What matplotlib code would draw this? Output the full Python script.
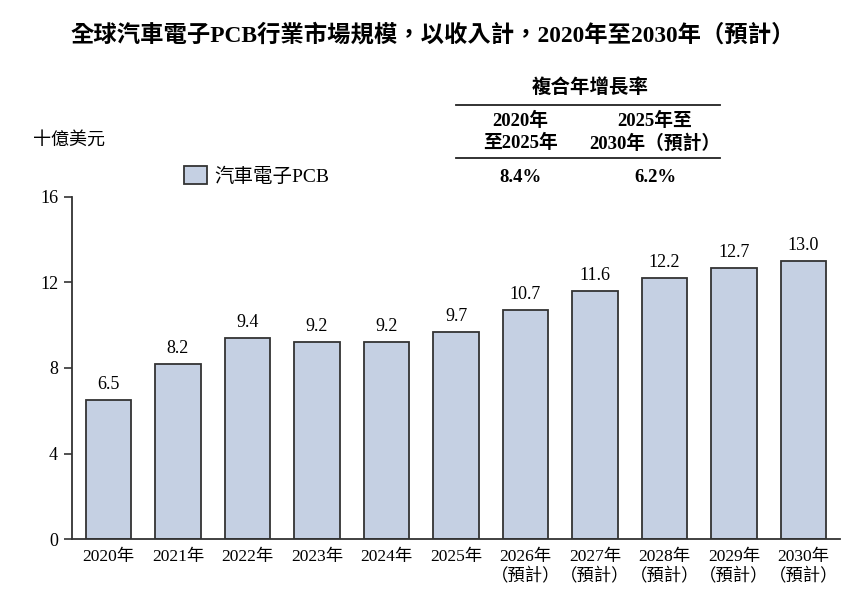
import matplotlib
matplotlib.use("Agg")
import matplotlib.pyplot as plt
from matplotlib.patches import Patch

plt.rcParams['font.family'] = ['Liberation Serif', 'Noto Sans CJK TC']

years = ["2020年", "2021年", "2022年", "2023年", "2024年", "2025年",
         "2026年\n（預計）", "2027年\n（預計）", "2028年\n（預計）",
         "2029年\n（預計）", "2030年\n（預計）"]
values = [6.5, 8.2, 9.4, 9.2, 9.2, 9.7, 10.7, 11.6, 12.2, 12.7, 13.0]
cagr_headers = ["2020年\n至2025年", "2025年至\n2030年（預計）"]
cagr_values = ["8.4%", "6.2%"]

bar_color = "#c5d0e3"
edge = "#333333"

fig = plt.figure(figsize=(8.66, 6.05), dpi=100)
ax = fig.add_axes([72 / 866, 66 / 605, 768 / 866, 342 / 605])

x = list(range(len(values)))
ax.bar(x, values, width=0.65, color=bar_color, edgecolor=edge, linewidth=1.3, zorder=2)
for xi, v in zip(x, values):
    ax.annotate(f"{v:.1f}", (xi, v), xytext=(0, 5), textcoords="offset points",
                ha="center", va="bottom", fontsize=13)

ax.set_xlim(-0.525, 10.525)
ax.set_ylim(0, 16)
ax.set_yticks([0, 4, 8, 12, 16])
ax.set_xticks(x)
ax.set_xticklabels(years, fontsize=12.5, linespacing=1.3)
ax.tick_params(axis="x", length=0, pad=7)
ax.tick_params(axis="y", length=6, width=1.2, color=edge, labelsize=13, pad=4)
for s in ["top", "right"]:
    ax.spines[s].set_visible(False)
for s in ["left", "bottom"]:
    ax.spines[s].set_color(edge)
    ax.spines[s].set_linewidth(1.3)

fig.text(0.5, 1 - 35 / 605, "全球汽車電子PCB行業市場規模，以收入計，2020年至2030年（預計）",
         ha="center", va="center", fontsize=16.8, fontweight="bold")
fig.text(33 / 866, 1 - 140 / 605, "十億美元", ha="left", va="center",
         fontsize=13, style="italic")

fig.legend(handles=[Patch(facecolor=bar_color, edgecolor=edge, linewidth=1.3, label="汽車電子PCB")],
           loc="center left", bbox_to_anchor=(166 / 866, 1 - 176 / 605), frameon=False,
           fontsize=14, handlelength=1.2, handleheight=1.0, handletextpad=0.4)

# CAGR table
fig.text(590 / 866, 1 - 88 / 605, "複合年增長率", ha="center", va="center",
         fontsize=14, fontweight="bold")
fig.add_artist(plt.Line2D([456 / 866, 720 / 866], [1 - 105 / 605] * 2, color="#222222", lw=1.3))
fig.add_artist(plt.Line2D([456 / 866, 720 / 866], [1 - 158 / 605] * 2, color="#222222", lw=1.3))
for cx, head, val in zip([520, 655], cagr_headers, cagr_values):
    fig.text(cx / 866, 1 - 132 / 605, head, ha="center", va="center",
             fontsize=13.5, fontweight="bold", linespacing=1.3)
    fig.text(cx / 866, 1 - 178 / 605, val, ha="center", va="center",
             fontsize=13.5, fontweight="bold")

fig.savefig("out.png", dpi=100)
